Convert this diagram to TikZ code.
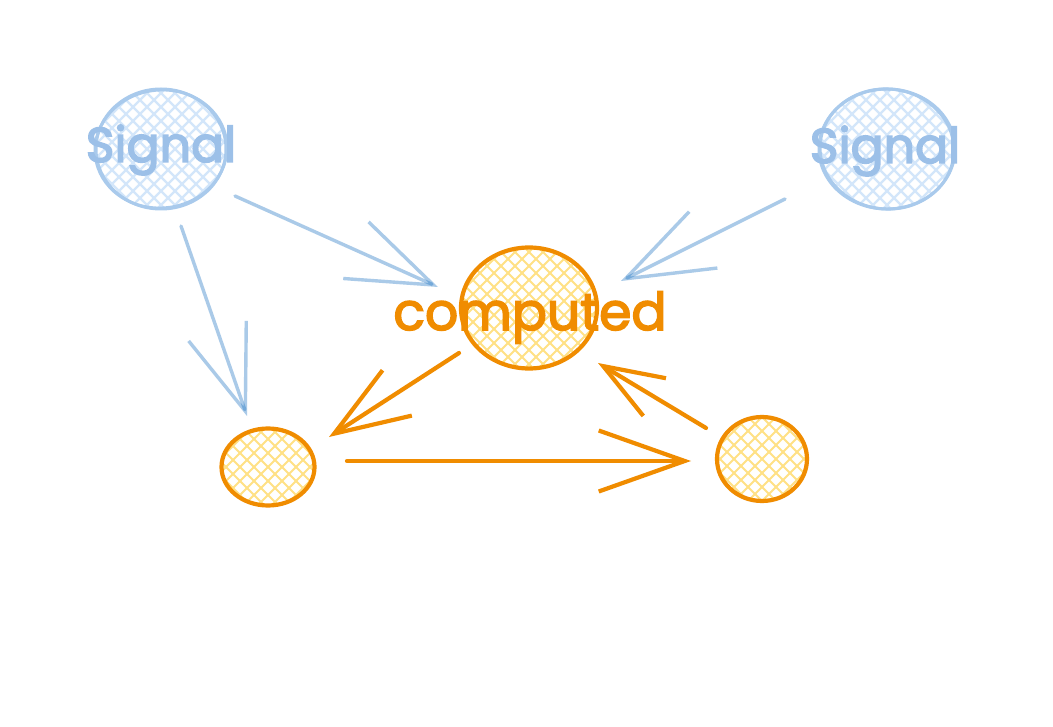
\documentclass[tikz,border=0pt]{standalone}
\usepackage{fontspec}
\newfontfamily\handfont{Poppins}[FakeBold=3]
\usetikzlibrary{arrows.meta,calc,shapes.geometric}
\definecolor{sigblue}{HTML}{1971C2}
\definecolor{sigline}{HTML}{A9CAEC}
\definecolor{sigtxt}{HTML}{9CC0E8}
\definecolor{sighatch}{HTML}{D3E6FA}
\definecolor{orng}{HTML}{F08C00}
\definecolor{ohatch}{HTML}{FFE185}
\begin{document}
\begin{tikzpicture}[x=1pt,y=-1pt,
  bstroke/.style={draw=sigline, line width=3pt, line cap=round, line join=round},
  ostroke/.style={draw=orng, line width=4.2pt, line cap=round, line join=round},
  bhatch/.style={draw=sighatch, line width=2.2pt},
  ohatch/.style={draw=ohatch, line width=2pt},
  hatched/.style={ellipse, inner sep=0pt, path picture={
      \foreach \k in {-140,-126,...,140}{
        \draw[#1] ($(path picture bounding box.center)+(\k-80,-80)$) -- ++(160,160);
        \draw[#1] ($(path picture bounding box.center)+(\k+80,-80)$) -- ++(-160,160);
      }}},
  signode/.style={hatched=bhatch, bstroke},
  compnode/.style={hatched=ohatch, ostroke},
  sigtext/.style={text=sigtxt, font=\handfont\fontsize{49}{49}\selectfont, anchor=base, inner sep=0pt},
  comptext/.style={text=orng, font=\handfont\fontsize{52}{52}\selectfont, anchor=base, inner sep=0pt},
  barrow/.style={draw=sigblue, draw opacity=0.37, line width=3.4pt, line cap=round, line join=round},
  oarrow/.style={ostroke}
]
\useasboundingbox[fill=white] (0,0) rectangle (1053,727);

% circles
\node[signode, minimum width=130pt, minimum height=120pt] (sigL) at (161,149) {};
\draw[bstroke] (sigL.center) ellipse [x radius=66, y radius=59, rotate=6];
\node[signode, minimum width=136pt, minimum height=120pt] (sigR) at (887,149) {};
\draw[bstroke] (sigR.center) ellipse [x radius=67, y radius=60, rotate=-5];
\node[compnode, minimum width=136pt, minimum height=121pt] (comp) at (529,308) {};
\node[compnode, minimum width=93pt, minimum height=77pt] (smL) at (268,467) {};
\node[compnode, minimum width=90pt, minimum height=84pt] (smR) at (762,459) {};

% texts
\node[sigtext] (tL) at (161,162) {Signal};
\node[sigtext] (tR) at (885,163) {Signal};
\node[comptext] (tC) at (530,330) {computed};

% connectors
\draw[barrow, -{Straight Barb[length=85pt,width=62pt]}]
  ([shift={(74,47)}]sigL.center) -- ([shift={(-91,-21)}]comp.center);
\draw[barrow, -{Straight Barb[length=85pt,width=61pt]}]
  ([shift={(20,77)}]sigL.center) -- ([shift={(-21,-51)}]smL.center);
\draw[barrow, -{Straight Barb[length=87pt,width=63pt]}]
  ([shift={(-102,50)}]sigR.center) -- ([shift={(92,-27)}]comp.center);
\draw[oarrow, -{Straight Barb[length=75pt,width=54pt]}]
  ([shift={(-70,45)}]comp.center) -- ([shift={(61,-30)}]smL.center);
\draw[oarrow, -{Straight Barb[length=86pt,width=61pt]}]
  ([shift={(79,-6)}]smL.center) -- ([shift={(-71,2)}]smR.center);
\draw[oarrow, -{Straight Barb[length=60pt,width=44pt]}]
  ([shift={(-56,-31)}]smR.center) -- ([shift={(69,55)}]comp.center);
\end{tikzpicture}
\end{document}
